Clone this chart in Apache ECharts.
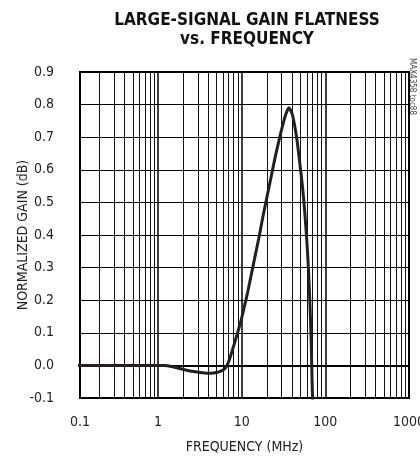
<!DOCTYPE html>
<html>
<head>
<meta charset="utf-8">
<script src="https://cdn.jsdelivr.net/npm/echarts@6/dist/echarts.min.js"></script>
<style>
html,body{margin:0;padding:0;background:#fff;}
#chart{width:420px;height:456px;}
</style>
</head>
<body>
<div id="chart"></div>
<script>
// Frequency (MHz) and normalized gain (dB)
const freqMHz = [0.1, 0.5, 1.0, 1.2, 1.5, 1.84, 2.2, 2.66, 3.2, 3.86, 4.6, 5.58, 6.4, 7.0, 7.73, 8.87, 10, 10.87, 11.81, 12.83, 14.34, 16.03, 17.91, 20.01, 22.36, 24.98, 27.92, 31.19, 33.9, 36.5, 38.9, 40.8, 45.4, 49.3, 53.5, 56.6, 60.2, 63.3, 65.9, 67.8, 69.2, 70.7];
const gainDB  = [0, 0, 0, 0, -0.004, -0.01, -0.015, -0.019, -0.022, -0.024, -0.023, -0.018, -0.008, 0.012, 0.046, 0.097, 0.145, 0.185, 0.225, 0.27, 0.33, 0.39, 0.455, 0.515, 0.575, 0.635, 0.69, 0.74, 0.772, 0.79, 0.78, 0.765, 0.70, 0.625, 0.545, 0.475, 0.38, 0.28, 0.17, 0.07, -0.03, -0.12];
const minorFreqs = [0.2,0.3,0.4,0.5,0.6,0.7,0.8,0.9, 2,3,4,5,6,7,8,9, 20,30,40,50,60,70,80,90, 200,300,400,500,600,700,800,900];
const xTickLabels = ['0.1', '1', '10', '100', '1000'];
// the reference frame starts slightly right of the true 0.1 MHz position
const xMin = 0.117, xMax = 1000;
const titleText = 'LARGE-SIGNAL GAIN FLATNESS\nvs. FREQUENCY';
const xName = 'FREQUENCY (MHz)';
const yName = 'NORMALIZED GAIN (dB)';
const tocText = 'MAX4358 toc88';

const narrow = '"Liberation Sans Narrow", "DejaVu Sans Condensed", "Liberation Sans", sans-serif';
const chart = echarts.init(document.getElementById('chart'), null, {renderer: 'canvas'});
chart.setOption({
  animation: false,
  title: {
    text: titleText,
    left: 242, top: 6, textAlign: 'center',
    textStyle: {fontFamily: narrow, fontWeight: 'bold', fontSize: 17, lineHeight: 19, color: '#111'}
  },
  grid: {left: 80, right: 11, top: 72, bottom: 58, show: true, borderColor: '#000', borderWidth: 2,
         backgroundColor: 'transparent', containLabel: false, outerBoundsMode: 'none'},
  xAxis: {
    type: 'log', logBase: 10, min: xMin, max: xMax,
    name: xName, nameLocation: 'middle', nameGap: 42, nameMoveOverlap: false,
    nameTextStyle: {fontFamily: narrow, fontSize: 14, color: '#222'},
    axisLine: {show: true, lineStyle: {color: '#000', width: 2}},
    axisTick: {show: false},
    axisLabel: {
      fontFamily: narrow, fontSize: 14, color: '#222', margin: 17, showMinLabel: true, showMaxLabel: true,
      formatter: function (v) {
        const i = Math.round(Math.log10(v) + 1);
        return xTickLabels[i] !== undefined ? xTickLabels[i] : '';
      }
    },
    splitLine: {show: true, lineStyle: {color: '#000', width: 1.5}}
  },
  yAxis: {
    type: 'value', min: -0.1, max: 0.9, interval: 0.1,
    name: yName, nameLocation: 'middle', nameGap: 50, nameRotate: 90, nameMoveOverlap: false,
    nameTextStyle: {fontFamily: narrow, fontSize: 14, color: '#222'},
    axisLine: {show: true, lineStyle: {color: '#000', width: 2}},
    axisTick: {show: false},
    axisLabel: {fontFamily: narrow, fontSize: 14, color: '#222', margin: 26,
      formatter: function (v) { return v.toFixed(1); }},
    splitLine: {show: true, lineStyle: {color: '#000', width: 1}}
  },
  series: [{
    type: 'line',
    data: freqMHz.map((f, i) => [f, gainDB[i]]),
    showSymbol: false,
    smooth: 0.2,
    clip: true,
    lineStyle: {color: '#231f20', width: 3},
    z: 5,
    markLine: {
      silent: true, symbol: 'none', animation: false,
      label: {show: false},
      lineStyle: {color: '#111', width: 1, type: 'solid'},
      data: minorFreqs.map(f => ({xAxis: f}))
    }
  }],
  graphic: [{
    type: 'text', left: 408, top: 58,
    style: {text: tocText, fontFamily: narrow, fontSize: 8, fill: '#444'},
    rotation: -Math.PI / 2,
    originX: 0, originY: 0
  }]
});
</script>
</body>
</html>
